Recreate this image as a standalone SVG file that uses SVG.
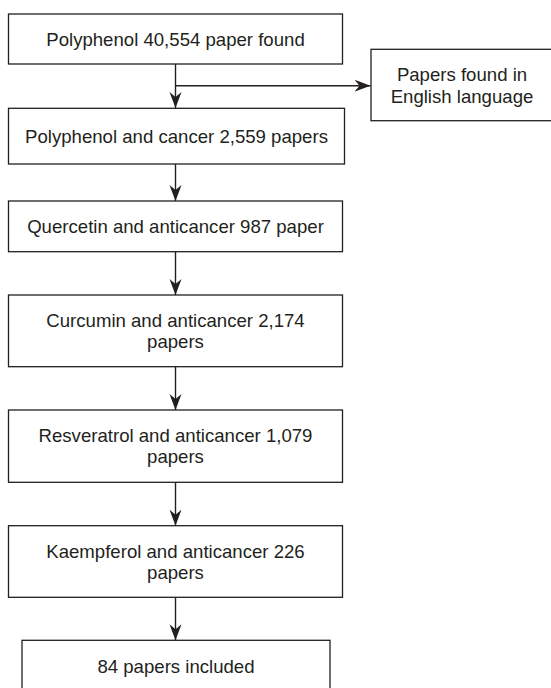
<svg xmlns="http://www.w3.org/2000/svg" width="551" height="688" viewBox="0 0 551 688">
<defs>
<marker id="ah" markerUnits="userSpaceOnUse" markerWidth="17" markerHeight="13" refX="16" refY="6" orient="auto">
<path d="M0,0 L16,6 L0,12 L5,6 Z" fill="#231f20"/>
</marker>
<style>
.box{fill:#fff;stroke:#231f20;stroke-width:1.3}
.t{font-family:"Liberation Sans",Arial,Helvetica,sans-serif;font-size:18.6px;fill:#231f20;text-anchor:middle}
.c{stroke:#231f20;stroke-width:1.4;fill:none}
</style>
</defs>
<rect width="551" height="688" fill="#fff"/>
<g id="connectors">
<line class="c" x1="175.5" y1="64" x2="175.5" y2="108" marker-end="url(#ah)"/>
<line class="c" x1="175.5" y1="85.7" x2="370.5" y2="85.7" marker-end="url(#ah)"/>
<line class="c" x1="175.5" y1="164" x2="175.5" y2="201" marker-end="url(#ah)"/>
<line class="c" x1="175.5" y1="251.7" x2="175.5" y2="295" marker-end="url(#ah)"/>
<line class="c" x1="175.5" y1="366.7" x2="175.5" y2="410" marker-end="url(#ah)"/>
<line class="c" x1="175.5" y1="482.3" x2="175.5" y2="525.7" marker-end="url(#ah)"/>
<line class="c" x1="175.5" y1="597.3" x2="175.5" y2="640.3" marker-end="url(#ah)"/>
</g>
<g id="n1">
<rect class="box" x="8.5" y="14" width="334" height="50"/>
<text class="t" x="175.5" y="45.6">Polyphenol 40,554 paper found</text>
</g>
<g id="n_english">
<rect class="box" x="371" y="49.3" width="183" height="71.4"/>
<text class="t" x="462" y="81">Papers found in</text>
<text class="t" x="462" y="102.5">English language</text>
</g>
<g id="n2">
<rect class="box" x="8.5" y="108.3" width="336" height="55.7"/>
<text class="t" x="176.5" y="142.7">Polyphenol and cancer 2,559 papers</text>
</g>
<g id="n3">
<rect class="box" x="8.5" y="201" width="334" height="50.7"/>
<text class="t" x="175.5" y="233">Quercetin and anticancer 987 paper</text>
</g>
<g id="n4">
<rect class="box" x="8.5" y="295" width="334" height="71.7"/>
<text class="t" x="175.5" y="327">Curcumin and anticancer 2,174</text>
<text class="t" x="175.5" y="348">papers</text>
</g>
<g id="n5">
<rect class="box" x="8.5" y="410" width="334" height="72.3"/>
<text class="t" x="175.5" y="442">Resveratrol and anticancer 1,079</text>
<text class="t" x="175.5" y="463">papers</text>
</g>
<g id="n6">
<rect class="box" x="8.5" y="525.7" width="334" height="71.6"/>
<text class="t" x="175.5" y="558">Kaempferol and anticancer 226</text>
<text class="t" x="175.5" y="579">papers</text>
</g>
<g id="n7">
<rect class="box" x="22" y="640.3" width="308" height="52"/>
<text class="t" x="176" y="673.3">84 papers included</text>
</g>
</svg>
